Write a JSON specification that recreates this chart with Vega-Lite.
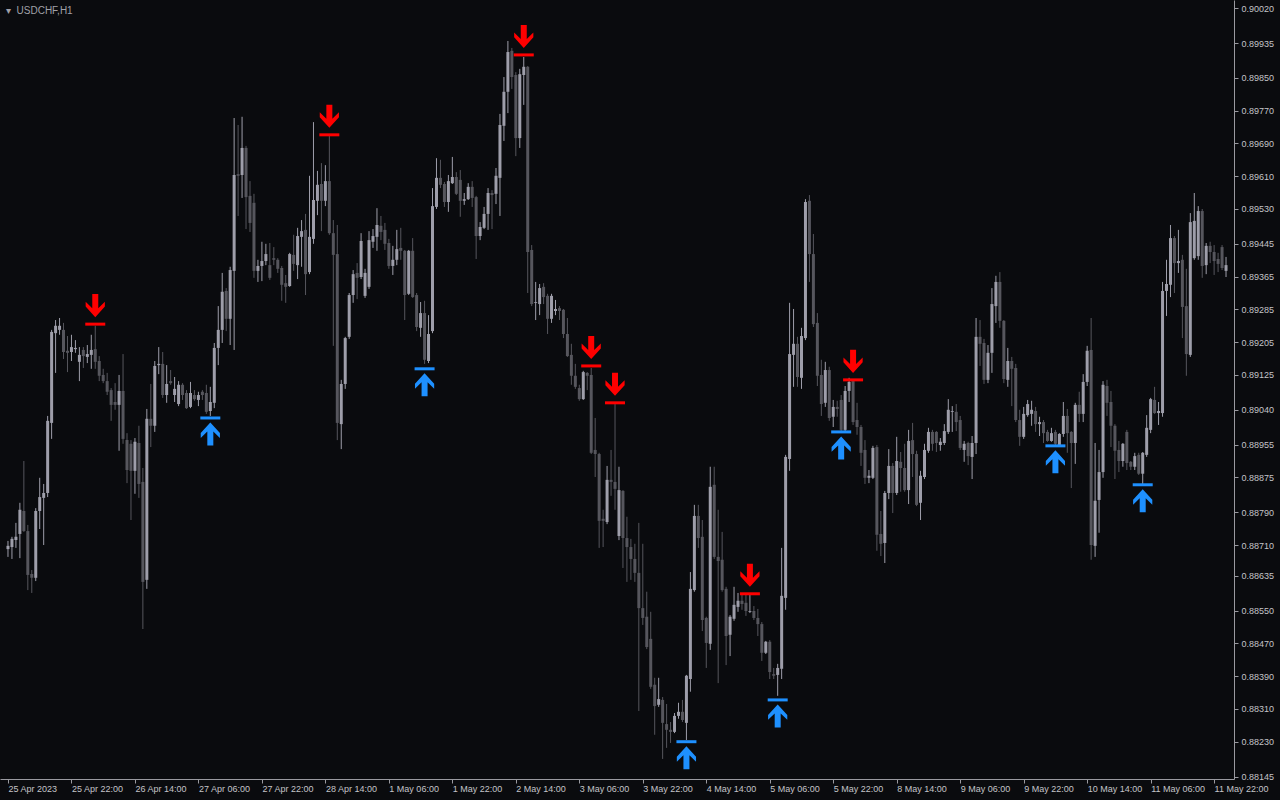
{
"$schema":"https://vega.github.io/schema/vega-lite/v6.json",
"width":1234,"height":779,"autosize":"none",
"padding":{"left":0,"top":0,"right":46,"bottom":21},
"background":"#0a0b0e",
"config":{"view":{"stroke":null},"font":"Liberation Sans","axis":{"labelOverlap":false,"labelBound":false,"labelFlush":false},
"title":{"color":"#a0a0a8","font":"Liberation Sans","fontSize":10,"fontWeight":"normal","anchor":"start","frame":"group","offset":-16,"dx":6}},
"title":{"text":"▾\u00a0 USDCHF,H1"},
"resolve":{"axis":{"x":"independent","y":"independent"}},
"datasets":{
"bars":[
{"i":0,"o":0.88700,"h":0.88720,"l":0.88681,"c":0.88708},
{"i":1,"o":0.88705,"h":0.88730,"l":0.88676,"c":0.88725},
{"i":2,"o":0.88722,"h":0.88764,"l":0.88703,"c":0.88730},
{"i":3,"o":0.88737,"h":0.88813,"l":0.88678,"c":0.88796},
{"i":4,"o":0.88793,"h":0.88915,"l":0.88742,"c":0.88744},
{"i":5,"o":0.88744,"h":0.88759,"l":0.88600,"c":0.88637},
{"i":6,"o":0.88639,"h":0.88649,"l":0.88593,"c":0.88630},
{"i":7,"o":0.88630,"h":0.88800,"l":0.88622,"c":0.88793},
{"i":8,"o":0.88793,"h":0.88874,"l":0.88749,"c":0.88827},
{"i":9,"o":0.88825,"h":0.88859,"l":0.88710,"c":0.88837},
{"i":10,"o":0.88837,"h":0.89025,"l":0.88827,"c":0.89013},
{"i":11,"o":0.89008,"h":0.89235,"l":0.88969,"c":0.89230},
{"i":12,"o":0.89227,"h":0.89259,"l":0.89130,"c":0.89245},
{"i":13,"o":0.89235,"h":0.89264,"l":0.89223,"c":0.89245},
{"i":14,"o":0.89235,"h":0.89252,"l":0.89164,"c":0.89181},
{"i":15,"o":0.89184,"h":0.89220,"l":0.89132,"c":0.89179},
{"i":16,"o":0.89181,"h":0.89223,"l":0.89159,"c":0.89193},
{"i":17,"o":0.89188,"h":0.89210,"l":0.89179,"c":0.89191},
{"i":18,"o":0.89157,"h":0.89193,"l":0.89110,"c":0.89174},
{"i":19,"o":0.89186,"h":0.89193,"l":0.89142,"c":0.89171},
{"i":20,"o":0.89169,"h":0.89198,"l":0.89154,"c":0.89176},
{"i":21,"o":0.89174,"h":0.89223,"l":0.89140,"c":0.89186},
{"i":22,"o":0.89188,"h":0.89245,"l":0.89140,"c":0.89157},
{"i":23,"o":0.89159,"h":0.89171,"l":0.89110,"c":0.89123},
{"i":24,"o":0.89125,"h":0.89140,"l":0.89105,"c":0.89110},
{"i":25,"o":0.89110,"h":0.89130,"l":0.89076,"c":0.89084},
{"i":26,"o":0.89088,"h":0.89093,"l":0.89013,"c":0.89052},
{"i":27,"o":0.89059,"h":0.89105,"l":0.89040,"c":0.89052},
{"i":28,"o":0.89052,"h":0.89125,"l":0.88940,"c":0.89086},
{"i":29,"o":0.89086,"h":0.89176,"l":0.88957,"c":0.88969},
{"i":30,"o":0.88966,"h":0.88983,"l":0.88861,"c":0.88893},
{"i":31,"o":0.88957,"h":0.88966,"l":0.88771,"c":0.88891},
{"i":32,"o":0.88891,"h":0.88971,"l":0.88835,"c":0.88962},
{"i":33,"o":0.88959,"h":0.89001,"l":0.88825,"c":0.88859},
{"i":34,"o":0.88864,"h":0.88898,"l":0.88505,"c":0.88620},
{"i":35,"o":0.88625,"h":0.89042,"l":0.88603,"c":0.89018},
{"i":36,"o":0.89018,"h":0.89103,"l":0.88949,"c":0.89001},
{"i":37,"o":0.89001,"h":0.89159,"l":0.88986,"c":0.89147},
{"i":38,"o":0.89149,"h":0.89193,"l":0.89127,"c":0.89152},
{"i":39,"o":0.89152,"h":0.89181,"l":0.89069,"c":0.89076},
{"i":40,"o":0.89076,"h":0.89149,"l":0.89057,"c":0.89103},
{"i":41,"o":0.89110,"h":0.89137,"l":0.89101,"c":0.89105},
{"i":42,"o":0.89076,"h":0.89120,"l":0.89059,"c":0.89091},
{"i":43,"o":0.89054,"h":0.89110,"l":0.89049,"c":0.89101},
{"i":44,"o":0.89101,"h":0.89105,"l":0.89064,"c":0.89076},
{"i":45,"o":0.89081,"h":0.89088,"l":0.89042,"c":0.89044},
{"i":46,"o":0.89047,"h":0.89108,"l":0.89044,"c":0.89081},
{"i":47,"o":0.89076,"h":0.89088,"l":0.89062,"c":0.89066},
{"i":48,"o":0.89064,"h":0.89084,"l":0.89049,"c":0.89076},
{"i":49,"o":0.89084,"h":0.89088,"l":0.89064,"c":0.89076},
{"i":50,"o":0.89081,"h":0.89101,"l":0.89030,"c":0.89035},
{"i":51,"o":0.89037,"h":0.89096,"l":0.89025,"c":0.89059},
{"i":52,"o":0.89057,"h":0.89203,"l":0.89044,"c":0.89191},
{"i":53,"o":0.89191,"h":0.89293,"l":0.89149,"c":0.89235},
{"i":54,"o":0.89235,"h":0.89374,"l":0.89203,"c":0.89328},
{"i":55,"o":0.89330,"h":0.89337,"l":0.89232,"c":0.89262},
{"i":56,"o":0.89262,"h":0.89389,"l":0.89198,"c":0.89381},
{"i":57,"o":0.89379,"h":0.89752,"l":0.89186,"c":0.89613},
{"i":58,"o":0.89615,"h":0.89735,"l":0.89513,"c":0.89611},
{"i":59,"o":0.89613,"h":0.89755,"l":0.89557,"c":0.89679},
{"i":60,"o":0.89679,"h":0.89684,"l":0.89481,"c":0.89559},
{"i":61,"o":0.89562,"h":0.89598,"l":0.89474,"c":0.89496},
{"i":62,"o":0.89545,"h":0.89567,"l":0.89362,"c":0.89379},
{"i":63,"o":0.89379,"h":0.89406,"l":0.89352,"c":0.89391},
{"i":64,"o":0.89391,"h":0.89450,"l":0.89354,"c":0.89403},
{"i":65,"o":0.89403,"h":0.89445,"l":0.89393,"c":0.89420},
{"i":66,"o":0.89393,"h":0.89447,"l":0.89357,"c":0.89362},
{"i":67,"o":0.89410,"h":0.89437,"l":0.89393,"c":0.89406},
{"i":68,"o":0.89406,"h":0.89410,"l":0.89374,"c":0.89384},
{"i":69,"o":0.89386,"h":0.89391,"l":0.89306,"c":0.89345},
{"i":70,"o":0.89349,"h":0.89369,"l":0.89301,"c":0.89340},
{"i":71,"o":0.89342,"h":0.89423,"l":0.89340,"c":0.89420},
{"i":72,"o":0.89418,"h":0.89467,"l":0.89379,"c":0.89396},
{"i":73,"o":0.89393,"h":0.89484,"l":0.89359,"c":0.89464},
{"i":74,"o":0.89462,"h":0.89503,"l":0.89389,"c":0.89476},
{"i":75,"o":0.89479,"h":0.89518,"l":0.89320,"c":0.89371},
{"i":76,"o":0.89376,"h":0.89611,"l":0.89371,"c":0.89462},
{"i":77,"o":0.89457,"h":0.89742,"l":0.89445,"c":0.89552},
{"i":78,"o":0.89550,"h":0.89623,"l":0.89515,"c":0.89589},
{"i":79,"o":0.89591,"h":0.89642,"l":0.89476,"c":0.89550},
{"i":80,"o":0.89550,"h":0.89637,"l":0.89537,"c":0.89598},
{"i":81,"o":0.89598,"h":0.89708,"l":0.89467,"c":0.89471},
{"i":82,"o":0.89471,"h":0.89503,"l":0.89196,"c":0.89418},
{"i":83,"o":0.89420,"h":0.89491,"l":0.88966,"c":0.89008},
{"i":84,"o":0.89005,"h":0.89113,"l":0.88944,"c":0.89103},
{"i":85,"o":0.89103,"h":0.89218,"l":0.89091,"c":0.89215},
{"i":86,"o":0.89218,"h":0.89325,"l":0.89213,"c":0.89320},
{"i":87,"o":0.89320,"h":0.89381,"l":0.89301,"c":0.89371},
{"i":88,"o":0.89374,"h":0.89398,"l":0.89310,"c":0.89362},
{"i":89,"o":0.89364,"h":0.89471,"l":0.89359,"c":0.89452},
{"i":90,"o":0.89318,"h":0.89384,"l":0.89313,"c":0.89374},
{"i":91,"o":0.89340,"h":0.89476,"l":0.89335,"c":0.89454},
{"i":92,"o":0.89450,"h":0.89481,"l":0.89435,"c":0.89464},
{"i":93,"o":0.89462,"h":0.89532,"l":0.89428,"c":0.89491},
{"i":94,"o":0.89489,"h":0.89513,"l":0.89454,"c":0.89474},
{"i":95,"o":0.89479,"h":0.89496,"l":0.89430,"c":0.89445},
{"i":96,"o":0.89447,"h":0.89457,"l":0.89384,"c":0.89391},
{"i":97,"o":0.89391,"h":0.89440,"l":0.89369,"c":0.89406},
{"i":98,"o":0.89406,"h":0.89479,"l":0.89393,"c":0.89432},
{"i":99,"o":0.89435,"h":0.89484,"l":0.89406,"c":0.89428},
{"i":100,"o":0.89428,"h":0.89430,"l":0.89259,"c":0.89320},
{"i":101,"o":0.89323,"h":0.89430,"l":0.89320,"c":0.89428},
{"i":102,"o":0.89428,"h":0.89459,"l":0.89313,"c":0.89315},
{"i":103,"o":0.89320,"h":0.89325,"l":0.89232,"c":0.89242},
{"i":104,"o":0.89240,"h":0.89303,"l":0.89218,"c":0.89276},
{"i":105,"o":0.89276,"h":0.89306,"l":0.89152,"c":0.89162},
{"i":106,"o":0.89159,"h":0.89271,"l":0.89154,"c":0.89225},
{"i":107,"o":0.89232,"h":0.89581,"l":0.89227,"c":0.89537},
{"i":108,"o":0.89535,"h":0.89654,"l":0.89530,"c":0.89606},
{"i":109,"o":0.89606,"h":0.89650,"l":0.89581,"c":0.89589},
{"i":110,"o":0.89591,"h":0.89596,"l":0.89535,"c":0.89547},
{"i":111,"o":0.89547,"h":0.89613,"l":0.89523,"c":0.89598},
{"i":112,"o":0.89593,"h":0.89657,"l":0.89591,"c":0.89608},
{"i":113,"o":0.89608,"h":0.89620,"l":0.89564,"c":0.89567},
{"i":114,"o":0.89601,"h":0.89625,"l":0.89511,"c":0.89550},
{"i":115,"o":0.89550,"h":0.89569,"l":0.89540,"c":0.89554},
{"i":116,"o":0.89554,"h":0.89593,"l":0.89552,"c":0.89584},
{"i":117,"o":0.89584,"h":0.89598,"l":0.89535,"c":0.89557},
{"i":118,"o":0.89559,"h":0.89562,"l":0.89408,"c":0.89464},
{"i":119,"o":0.89464,"h":0.89498,"l":0.89454,"c":0.89486},
{"i":120,"o":0.89484,"h":0.89535,"l":0.89481,"c":0.89518},
{"i":121,"o":0.89518,"h":0.89581,"l":0.89479,"c":0.89569},
{"i":122,"o":0.89569,"h":0.89576,"l":0.89481,"c":0.89564},
{"i":123,"o":0.89567,"h":0.89630,"l":0.89542,"c":0.89611},
{"i":124,"o":0.89606,"h":0.89762,"l":0.89513,"c":0.89735},
{"i":125,"o":0.89733,"h":0.89852,"l":0.89696,"c":0.89816},
{"i":126,"o":0.89816,"h":0.89940,"l":0.89764,"c":0.89913},
{"i":127,"o":0.89916,"h":0.89923,"l":0.89823,"c":0.89852},
{"i":128,"o":0.89857,"h":0.89864,"l":0.89659,"c":0.89703},
{"i":129,"o":0.89703,"h":0.89872,"l":0.89679,"c":0.89859},
{"i":130,"o":0.89857,"h":0.89901,"l":0.89784,"c":0.89877},
{"i":131,"o":0.89877,"h":0.89879,"l":0.89325,"c":0.89425},
{"i":132,"o":0.89430,"h":0.89442,"l":0.89293,"c":0.89298},
{"i":133,"o":0.89301,"h":0.89352,"l":0.89259,"c":0.89303},
{"i":134,"o":0.89298,"h":0.89347,"l":0.89271,"c":0.89337},
{"i":135,"o":0.89340,"h":0.89349,"l":0.89298,"c":0.89315},
{"i":136,"o":0.89318,"h":0.89323,"l":0.89225,"c":0.89262},
{"i":137,"o":0.89262,"h":0.89323,"l":0.89252,"c":0.89318},
{"i":138,"o":0.89281,"h":0.89308,"l":0.89271,"c":0.89286},
{"i":139,"o":0.89288,"h":0.89293,"l":0.89259,"c":0.89281},
{"i":140,"o":0.89284,"h":0.89286,"l":0.89215,"c":0.89225},
{"i":141,"o":0.89225,"h":0.89264,"l":0.89169,"c":0.89171},
{"i":142,"o":0.89174,"h":0.89201,"l":0.89101,"c":0.89123},
{"i":143,"o":0.89123,"h":0.89152,"l":0.89091,"c":0.89096},
{"i":144,"o":0.89093,"h":0.89101,"l":0.89062,"c":0.89066},
{"i":145,"o":0.89066,"h":0.89135,"l":0.89064,"c":0.89132},
{"i":146,"o":0.89130,"h":0.89132,"l":0.89088,"c":0.89123},
{"i":147,"o":0.89125,"h":0.89142,"l":0.88932,"c":0.88935},
{"i":148,"o":0.88942,"h":0.89020,"l":0.88876,"c":0.88932},
{"i":149,"o":0.88932,"h":0.88935,"l":0.88703,"c":0.88769},
{"i":150,"o":0.88774,"h":0.88796,"l":0.88705,"c":0.88769},
{"i":151,"o":0.88766,"h":0.88903,"l":0.88761,"c":0.88869},
{"i":152,"o":0.88869,"h":0.88942,"l":0.88830,"c":0.88864},
{"i":153,"o":0.88864,"h":0.89054,"l":0.88796,"c":0.88847},
{"i":154,"o":0.88732,"h":0.88901,"l":0.88722,"c":0.88844},
{"i":155,"o":0.88842,"h":0.88844,"l":0.88654,"c":0.88727},
{"i":156,"o":0.88727,"h":0.88779,"l":0.88620,"c":0.88705},
{"i":157,"o":0.88705,"h":0.88725,"l":0.88625,"c":0.88676},
{"i":158,"o":0.88676,"h":0.88713,"l":0.88620,"c":0.88642},
{"i":159,"o":0.88642,"h":0.88764,"l":0.88305,"c":0.88556},
{"i":160,"o":0.88556,"h":0.88713,"l":0.88515,"c":0.88532},
{"i":161,"o":0.88535,"h":0.88596,"l":0.88456,"c":0.88461},
{"i":162,"o":0.88481,"h":0.88547,"l":0.88359,"c":0.88364},
{"i":163,"o":0.88369,"h":0.88386,"l":0.88247,"c":0.88317},
{"i":164,"o":0.88320,"h":0.88386,"l":0.88315,"c":0.88334},
{"i":165,"o":0.88332,"h":0.88339,"l":0.88188,"c":0.88276},
{"i":166,"o":0.88273,"h":0.88322,"l":0.88215,"c":0.88259},
{"i":167,"o":0.88259,"h":0.88278,"l":0.88227,"c":0.88254},
{"i":168,"o":0.88254,"h":0.88300,"l":0.88251,"c":0.88293},
{"i":169,"o":0.88293,"h":0.88325,"l":0.88286,"c":0.88303},
{"i":170,"o":0.88303,"h":0.88332,"l":0.88278,"c":0.88283},
{"i":171,"o":0.88276,"h":0.88393,"l":0.88234,"c":0.88391},
{"i":172,"o":0.88383,"h":0.88644,"l":0.88352,"c":0.88603},
{"i":173,"o":0.88600,"h":0.88808,"l":0.88596,"c":0.88781},
{"i":174,"o":0.88781,"h":0.88808,"l":0.88703,"c":0.88727},
{"i":175,"o":0.88730,"h":0.88771,"l":0.88500,"c":0.88527},
{"i":176,"o":0.88532,"h":0.88535,"l":0.88410,"c":0.88471},
{"i":177,"o":0.88469,"h":0.88901,"l":0.88454,"c":0.88852},
{"i":178,"o":0.88857,"h":0.88901,"l":0.88676,"c":0.88681},
{"i":179,"o":0.88681,"h":0.88796,"l":0.88373,"c":0.88671},
{"i":180,"o":0.88674,"h":0.88742,"l":0.88596,"c":0.88600},
{"i":181,"o":0.88603,"h":0.88608,"l":0.88417,"c":0.88488},
{"i":182,"o":0.88491,"h":0.88539,"l":0.88439,"c":0.88535},
{"i":183,"o":0.88530,"h":0.88608,"l":0.88525,"c":0.88564},
{"i":184,"o":0.88559,"h":0.88593,"l":0.88547,"c":0.88574},
{"i":185,"o":0.88574,"h":0.88591,"l":0.88552,"c":0.88566},
{"i":186,"o":0.88569,"h":0.88588,"l":0.88537,"c":0.88549},
{"i":187,"o":0.88547,"h":0.88588,"l":0.88544,"c":0.88549},
{"i":188,"o":0.88549,"h":0.88561,"l":0.88527,"c":0.88532},
{"i":189,"o":0.88532,"h":0.88554,"l":0.88488,"c":0.88517},
{"i":190,"o":0.88517,"h":0.88522,"l":0.88427,"c":0.88447},
{"i":191,"o":0.88447,"h":0.88476,"l":0.88444,"c":0.88474},
{"i":192,"o":0.88474,"h":0.88478,"l":0.88383,"c":0.88400},
{"i":193,"o":0.88395,"h":0.88410,"l":0.88383,"c":0.88391},
{"i":194,"o":0.88393,"h":0.88420,"l":0.88342,"c":0.88410},
{"i":195,"o":0.88408,"h":0.88703,"l":0.88383,"c":0.88586},
{"i":196,"o":0.88581,"h":0.88930,"l":0.88552,"c":0.88925},
{"i":197,"o":0.88920,"h":0.89301,"l":0.88891,"c":0.89176},
{"i":198,"o":0.89174,"h":0.89286,"l":0.89096,"c":0.89201},
{"i":199,"o":0.89201,"h":0.89218,"l":0.89096,"c":0.89120},
{"i":200,"o":0.89118,"h":0.89240,"l":0.89091,"c":0.89220},
{"i":201,"o":0.89215,"h":0.89554,"l":0.89210,"c":0.89547},
{"i":202,"o":0.89550,"h":0.89564,"l":0.89352,"c":0.89420},
{"i":203,"o":0.89420,"h":0.89469,"l":0.89242,"c":0.89249},
{"i":204,"o":0.89252,"h":0.89276,"l":0.89098,"c":0.89123},
{"i":205,"o":0.89125,"h":0.89162,"l":0.89025,"c":0.89054},
{"i":206,"o":0.89057,"h":0.89157,"l":0.89047,"c":0.89137},
{"i":207,"o":0.89137,"h":0.89145,"l":0.89013,"c":0.89020},
{"i":208,"o":0.89023,"h":0.89064,"l":0.88998,"c":0.89047},
{"i":209,"o":0.89047,"h":0.89062,"l":0.89023,"c":0.89042},
{"i":210,"o":0.89064,"h":0.89076,"l":0.88986,"c":0.88991},
{"i":211,"o":0.88991,"h":0.89098,"l":0.88988,"c":0.89086},
{"i":212,"o":0.89086,"h":0.89118,"l":0.89059,"c":0.89108},
{"i":213,"o":0.89110,"h":0.89115,"l":0.89003,"c":0.89010},
{"i":214,"o":0.89015,"h":0.89057,"l":0.88979,"c":0.88998},
{"i":215,"o":0.88998,"h":0.89003,"l":0.88903,"c":0.88935},
{"i":216,"o":0.88942,"h":0.88966,"l":0.88859,"c":0.88874},
{"i":217,"o":0.88874,"h":0.88893,"l":0.88861,"c":0.88879},
{"i":218,"o":0.88874,"h":0.88952,"l":0.88871,"c":0.88947},
{"i":219,"o":0.88949,"h":0.88954,"l":0.88696,"c":0.88735},
{"i":220,"o":0.88737,"h":0.88793,"l":0.88683,"c":0.88713},
{"i":221,"o":0.88715,"h":0.88842,"l":0.88666,"c":0.88837},
{"i":222,"o":0.88837,"h":0.88944,"l":0.88822,"c":0.88903},
{"i":223,"o":0.88903,"h":0.88910,"l":0.88788,"c":0.88837},
{"i":224,"o":0.88837,"h":0.88974,"l":0.88832,"c":0.88915},
{"i":225,"o":0.88913,"h":0.88937,"l":0.88840,"c":0.88898},
{"i":226,"o":0.88898,"h":0.88957,"l":0.88840,"c":0.88844},
{"i":227,"o":0.88844,"h":0.88991,"l":0.88810,"c":0.88964},
{"i":228,"o":0.88966,"h":0.89008,"l":0.88876,"c":0.88932},
{"i":229,"o":0.88932,"h":0.88940,"l":0.88805,"c":0.88808},
{"i":230,"o":0.88813,"h":0.88891,"l":0.88771,"c":0.88879},
{"i":231,"o":0.88876,"h":0.88957,"l":0.88871,"c":0.88942},
{"i":232,"o":0.88940,"h":0.88996,"l":0.88935,"c":0.88986},
{"i":233,"o":0.88986,"h":0.88991,"l":0.88940,"c":0.88957},
{"i":234,"o":0.88986,"h":0.88988,"l":0.88937,"c":0.88959},
{"i":235,"o":0.88954,"h":0.88971,"l":0.88940,"c":0.88962},
{"i":236,"o":0.88959,"h":0.89005,"l":0.88954,"c":0.88988},
{"i":237,"o":0.88986,"h":0.89066,"l":0.88981,"c":0.89040},
{"i":238,"o":0.89035,"h":0.89049,"l":0.88986,"c":0.89037},
{"i":239,"o":0.89035,"h":0.89054,"l":0.88988,"c":0.89010},
{"i":240,"o":0.89015,"h":0.89025,"l":0.88942,"c":0.88947},
{"i":241,"o":0.88942,"h":0.88964,"l":0.88913,"c":0.88957},
{"i":242,"o":0.88959,"h":0.88962,"l":0.88905,"c":0.88927},
{"i":243,"o":0.88925,"h":0.88976,"l":0.88871,"c":0.88959},
{"i":244,"o":0.88959,"h":0.89264,"l":0.88932,"c":0.89218},
{"i":245,"o":0.89218,"h":0.89259,"l":0.89147,"c":0.89201},
{"i":246,"o":0.89203,"h":0.89213,"l":0.89103,"c":0.89113},
{"i":247,"o":0.89113,"h":0.89198,"l":0.89105,"c":0.89179},
{"i":248,"o":0.89179,"h":0.89337,"l":0.89130,"c":0.89298},
{"i":249,"o":0.89293,"h":0.89367,"l":0.89252,"c":0.89352},
{"i":250,"o":0.89352,"h":0.89376,"l":0.89240,"c":0.89257},
{"i":251,"o":0.89257,"h":0.89259,"l":0.89105,"c":0.89115},
{"i":252,"o":0.89113,"h":0.89191,"l":0.89096,"c":0.89159},
{"i":253,"o":0.89159,"h":0.89169,"l":0.89049,"c":0.89140},
{"i":254,"o":0.89142,"h":0.89152,"l":0.89010,"c":0.89015},
{"i":255,"o":0.89015,"h":0.89040,"l":0.88952,"c":0.88974},
{"i":256,"o":0.88974,"h":0.89047,"l":0.88969,"c":0.89030},
{"i":257,"o":0.89027,"h":0.89064,"l":0.89023,"c":0.89054},
{"i":258,"o":0.89030,"h":0.89062,"l":0.89001,"c":0.89040},
{"i":259,"o":0.89037,"h":0.89047,"l":0.88986,"c":0.89005},
{"i":260,"o":0.89005,"h":0.89023,"l":0.88976,"c":0.89010},
{"i":261,"o":0.89010,"h":0.89015,"l":0.88959,"c":0.88983},
{"i":262,"o":0.88986,"h":0.88991,"l":0.88962,"c":0.88964},
{"i":263,"o":0.88964,"h":0.88996,"l":0.88962,"c":0.88983},
{"i":264,"o":0.88986,"h":0.88991,"l":0.88954,"c":0.88957},
{"i":265,"o":0.88954,"h":0.88983,"l":0.88952,"c":0.88981},
{"i":266,"o":0.88981,"h":0.89059,"l":0.88974,"c":0.89025},
{"i":267,"o":0.89025,"h":0.89042,"l":0.88935,"c":0.88983},
{"i":268,"o":0.88986,"h":0.88988,"l":0.88849,"c":0.88959},
{"i":269,"o":0.88959,"h":0.89057,"l":0.88908,"c":0.89052},
{"i":270,"o":0.89052,"h":0.89084,"l":0.89010,"c":0.89030},
{"i":271,"o":0.89030,"h":0.89127,"l":0.89010,"c":0.89108},
{"i":272,"o":0.89108,"h":0.89196,"l":0.89098,"c":0.89184},
{"i":273,"o":0.89186,"h":0.89264,"l":0.88674,"c":0.88710},
{"i":274,"o":0.88708,"h":0.88959,"l":0.88681,"c":0.88818},
{"i":275,"o":0.88820,"h":0.88942,"l":0.88740,"c":0.88888},
{"i":276,"o":0.88888,"h":0.89110,"l":0.88874,"c":0.89101},
{"i":277,"o":0.89098,"h":0.89113,"l":0.89025,"c":0.89057},
{"i":278,"o":0.89059,"h":0.89086,"l":0.88949,"c":0.89001},
{"i":279,"o":0.89001,"h":0.89005,"l":0.88871,"c":0.88940},
{"i":280,"o":0.88942,"h":0.88964,"l":0.88888,"c":0.88915},
{"i":281,"o":0.88915,"h":0.88959,"l":0.88901,"c":0.88957},
{"i":282,"o":0.88986,"h":0.88991,"l":0.88893,"c":0.88910},
{"i":283,"o":0.88913,"h":0.88915,"l":0.88893,"c":0.88901},
{"i":284,"o":0.88901,"h":0.88935,"l":0.88893,"c":0.88927},
{"i":285,"o":0.88930,"h":0.88935,"l":0.88881,"c":0.88884},
{"i":286,"o":0.88884,"h":0.88937,"l":0.88859,"c":0.88935},
{"i":287,"o":0.88930,"h":0.89027,"l":0.88925,"c":0.88996},
{"i":288,"o":0.88991,"h":0.89069,"l":0.88983,"c":0.89066},
{"i":289,"o":0.89064,"h":0.89096,"l":0.89030,"c":0.89032},
{"i":290,"o":0.89032,"h":0.89059,"l":0.89003,"c":0.89037},
{"i":291,"o":0.89032,"h":0.89352,"l":0.89023,"c":0.89330},
{"i":292,"o":0.89330,"h":0.89406,"l":0.89269,"c":0.89347},
{"i":293,"o":0.89345,"h":0.89491,"l":0.89315,"c":0.89459},
{"i":294,"o":0.89459,"h":0.89464,"l":0.89325,"c":0.89398},
{"i":295,"o":0.89398,"h":0.89479,"l":0.89374,"c":0.89403},
{"i":296,"o":0.89406,"h":0.89418,"l":0.89215,"c":0.89291},
{"i":297,"o":0.89293,"h":0.89384,"l":0.89123,"c":0.89176},
{"i":298,"o":0.89174,"h":0.89520,"l":0.89169,"c":0.89498},
{"i":299,"o":0.89410,"h":0.89569,"l":0.89406,"c":0.89501},
{"i":300,"o":0.89415,"h":0.89537,"l":0.89406,"c":0.89525},
{"i":301,"o":0.89525,"h":0.89530,"l":0.89362,"c":0.89391},
{"i":302,"o":0.89393,"h":0.89447,"l":0.89371,"c":0.89440},
{"i":303,"o":0.89440,"h":0.89450,"l":0.89398,"c":0.89425},
{"i":304,"o":0.89425,"h":0.89442,"l":0.89369,"c":0.89403},
{"i":305,"o":0.89408,"h":0.89423,"l":0.89376,"c":0.89396},
{"i":306,"o":0.89437,"h":0.89442,"l":0.89381,"c":0.89386},
{"i":307,"o":0.89379,"h":0.89413,"l":0.89364,"c":0.89393}
],
"signals":[
{"i":22,"side":"sell","lvl":0.89249},
{"i":51,"side":"buy","lvl":0.89020},
{"i":81,"side":"sell","lvl":0.89711},
{"i":105,"side":"buy","lvl":0.89140},
{"i":130,"side":"sell","lvl":0.89906},
{"i":147,"side":"sell","lvl":0.89147},
{"i":153,"side":"sell","lvl":0.89057},
{"i":171,"side":"buy","lvl":0.88230},
{"i":187,"side":"sell","lvl":0.88591},
{"i":194,"side":"buy","lvl":0.88332},
{"i":210,"side":"buy","lvl":0.88986},
{"i":213,"side":"sell","lvl":0.89113},
{"i":264,"side":"buy","lvl":0.88952},
{"i":286,"side":"buy","lvl":0.88857}
]},
"layer":[
{"data":{"name":"bars"},"mark":{"type":"rule","strokeWidth":1},
"encoding":{
"x":{"field":"i","type":"quantitative","scale":{"domain":[-0.75,307.75],"nice":false,"zero":false},
"axis":{"orient":"bottom","values":[0,16,32,48,64,80,96,112,128,144,160,176,192,208,224,240,256,272,288,304],
"labelExpr":"['25 Apr 2023','25 Apr 22:00','26 Apr 14:00','27 Apr 06:00','27 Apr 22:00','28 Apr 14:00','1 May 06:00','1 May 22:00','2 May 14:00','3 May 06:00','3 May 22:00','4 May 14:00','5 May 06:00','5 May 22:00','8 May 14:00','9 May 06:00','9 May 22:00','10 May 14:00','11 May 06:00','11 May 22:00'][round(datum.value/16)]",
"labelAlign":"left","labelDx":0,"labelBaseline":"top","labelPadding":1,"labelFlush":false,"labelOverlap":false,"labelBound":false,
"labelColor":"#c4c4c8","labelFont":"Liberation Sans","labelFontSize":9,"tickColor":"#9a9aa0","tickSize":4,"domainColor":"#9a9aa0","grid":false,"title":null}},
"y":{"field":"l","type":"quantitative","scale":{"domain":[0.88139,0.9004],"nice":false,"zero":false},
"axis":{"orient":"right","values":[0.9002,0.89935,0.8985,0.8977,0.8969,0.8961,0.8953,0.89445,0.89365,0.89285,0.89205,0.89125,0.8904,0.88955,0.88875,0.8879,0.8871,0.88635,0.8855,0.8847,0.8839,0.8831,0.8823,0.88145],
"format":".5f","labelColor":"#c4c4c8","labelFont":"Liberation Sans","labelFontSize":9,"labelPadding":3,"labelFlush":false,"labelOverlap":false,"labelBound":false,"labelBaseline":"middle",
"tickColor":"#9a9aa0","tickSize":4,"domainColor":"#9a9aa0","grid":false,"title":null}},
"y2":{"field":"h"},
"color":{"condition":{"test":"datum.c >= datum.o","value":"#9e9eaa"},"value":"#56565d"}}},
{"data":{"name":"bars"},"mark":{"type":"bar","width":3},
"encoding":{
"x":{"field":"i","type":"quantitative","scale":{"domain":[-0.75,307.75],"nice":false,"zero":false},"axis":null},
"y":{"field":"o","type":"quantitative","scale":{"domain":[0.88139,0.9004],"nice":false,"zero":false},"axis":null},
"y2":{"field":"c"},
"color":{"condition":{"test":"datum.c >= datum.o","value":"#9e9eaa"},"value":"#56565d"}}},
{"data":{"name":"signals"},"mark":{"type":"point","filled":true,"opacity":1,"shape":"M-1,-0.15H1V0.15H-1Z","size":400,"strokeWidth":0},
"encoding":{
"x":{"field":"i","type":"quantitative","scale":{"domain":[-0.75,307.75],"nice":false,"zero":false},"axis":null},
"y":{"field":"lvl","type":"quantitative","scale":{"domain":[0.88139,0.9004],"nice":false,"zero":false},"axis":null},
"color":{"field":"side","type":"nominal","scale":{"domain":["sell","buy"],"range":["#ff0000","#1e90ff"]},"legend":null}}},
{"data":{"name":"signals"},"transform":[{"filter":"datum.side == 'sell'"}],
"mark":{"type":"point","filled":true,"opacity":1,"shape":"M-0.25,-0.96H0.25V0.21L0.8,-0.33V0.08L0,0.96L-0.8,0.08V-0.33L-0.25,0.21Z","size":576,"strokeWidth":0,"yOffset":-18.5,"color":"#ff0000"},
"encoding":{
"x":{"field":"i","type":"quantitative","scale":{"domain":[-0.75,307.75],"nice":false,"zero":false},"axis":null},
"y":{"field":"lvl","type":"quantitative","scale":{"domain":[0.88139,0.9004],"nice":false,"zero":false},"axis":null}}},
{"data":{"name":"signals"},"transform":[{"filter":"datum.side == 'buy'"}],
"mark":{"type":"point","filled":true,"opacity":1,"shape":"M-0.25,0.96H0.25V-0.21L0.8,0.33V-0.08L0,-0.96L-0.8,-0.08V0.33L-0.25,-0.21Z","size":576,"strokeWidth":0,"yOffset":16,"color":"#1e90ff"},
"encoding":{
"x":{"field":"i","type":"quantitative","scale":{"domain":[-0.75,307.75],"nice":false,"zero":false},"axis":null},
"y":{"field":"lvl","type":"quantitative","scale":{"domain":[0.88139,0.9004],"nice":false,"zero":false},"axis":null}}}
]
}
